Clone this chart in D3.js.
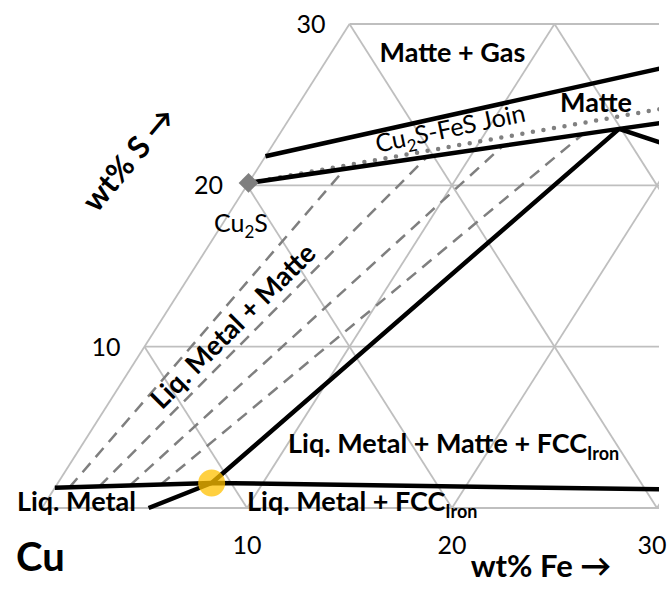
<!DOCTYPE html>
<html>
<head>
<meta charset="utf-8">
<script src="https://cdn.jsdelivr.net/npm/d3@7"></script>
<style>
  body { margin: 0; background: #fff; }
  svg { display: block; font-family: Lato, "Open Sans", sans-serif; }
</style>
</head>
<body>
<div id="chart"></div>
<script>
// ternary corner (Cu rich), values are [wt% Fe, wt% S]
const feTicks = [10, 20, 30];
const sTicks = [10, 20, 30];
const gridVals = [0, 10, 20, 30];

const matteUpper = [[0, 21.8], [17, 27.4]];
const matteLower = [[0, 20.15], [16.4, 23.5], [18.2, 23.85]];
const matteRight = [[16.4, 23.5], [19.4, 22.45]];
const threePhase = [[16.4, 23.5], [7.5, 1.55], [5.2, 0]];
const liquidLine = [[0, 1.25], [7.5, 1.55], [30, 1.15]];
const joinLine = [[0, 20.15], [20, 25.3]];
const tieLines = [
  [[0.7, 1.28], [4.27, 21.02]],
  [[2.13, 1.34], [7.9, 21.76]],
  [[3.59, 1.4], [11.26, 22.45]],
  [[5.06, 1.45], [14.8, 23.17]]
];
const cu2s = [0, 20.15];
const eutectic = [7.5, 1.55];

const width = 668, height = 590;

let svg = d3.select("#chart")
  .append("svg")
  .attr("width", width)
  .attr("height", height);

// Fe runs along the bottom, S up the left edge
let x = d3.scaleLinear().domain([0, 30]).range([42, 657]);
let y = d3.scaleLinear().domain([0, 30]).range([508, 24]);
const px = d => x(d[0] + d[1] / 2);
const py = d => y(d[1]);
const line = d3.line().x(px).y(py);

svg.append("clipPath").attr("id", "clip")
  .append("rect").attr("x", 0).attr("y", 0).attr("width", 659).attr("height", height);

let plot = svg.append("g").attr("clip-path", "url(#clip)");

// grid: constant S, constant Fe, constant Cu
let grid = [];
gridVals.forEach(v => {
  grid.push([[0, v], [40, v]]);
  grid.push([[v, 0], [v, 30]]);
});
[10, 20, 30, 40].forEach(t => grid.push([[Math.max(0, t - 30), Math.min(t, 30)], [t, 0]]));

plot.selectAll(".grid")
  .data(grid)
  .join("path")
  .attr("class", "grid")
  .attr("d", line)
  .attr("fill", "none")
  .attr("stroke", "#bfbfbf")
  .attr("stroke-width", 1.8);

plot.selectAll(".tie")
  .data(tieLines)
  .join("path")
  .attr("class", "tie")
  .attr("d", line)
  .attr("fill", "none")
  .attr("stroke", "#7f7f7f")
  .attr("stroke-width", 2.5)
  .attr("stroke-dasharray", "12,8");

plot.append("path")
  .attr("d", line(joinLine))
  .attr("fill", "none")
  .attr("stroke", "#808080")
  .attr("stroke-width", 4.5)
  .attr("stroke-linecap", "round")
  .attr("stroke-dasharray", "0,10.7");

plot.selectAll(".bound")
  .data([matteUpper, matteLower, matteRight, threePhase, liquidLine])
  .join("path")
  .attr("class", "bound")
  .attr("d", line)
  .attr("fill", "none")
  .attr("stroke", "#000")
  .attr("stroke-width", 4.5)
  .attr("stroke-linejoin", "round");

svg.append("rect") // Cu2S marker
  .attr("x", -7).attr("y", -7).attr("width", 14).attr("height", 14)
  .attr("fill", "#7f7f7f")
  .attr("transform", `translate(${px(cu2s)},${py(cu2s)}) rotate(45)`);

svg.append("circle")
  .attr("cx", px(eutectic)).attr("cy", py(eutectic)).attr("r", 13.5)
  .attr("fill", "#ffc000")
  .attr("fill-opacity", 0.75);

// tick labels
svg.selectAll(".fetick")
  .data(feTicks)
  .join("text")
  .attr("x", d => Math.min(px([d, 0]), 652))
  .attr("y", 554)
  .attr("text-anchor", "middle")
  .style("font-size", "25px")
  .text(d => d);

svg.selectAll(".stick")
  .data(sTicks)
  .join("text")
  .attr("x", d => px([0, d]) - 24)
  .attr("y", d => py([0, d]) + 9)
  .attr("text-anchor", "end")
  .style("font-size", "25px")
  .text(d => d);

// axis titles
svg.append("text")
  .attr("x", 541).attr("y", 577)
  .attr("text-anchor", "middle")
  .style("font-size", "31px").style("font-weight", "bold")
  .text("wt% Fe →");

svg.append("text")
  .attr("transform", "translate(137,166) rotate(-50)")
  .attr("text-anchor", "middle")
  .style("font-size", "31px").style("font-weight", "bold")
  .text("wt% S →");

svg.append("text")
  .attr("x", 16).attr("y", 571)
  .style("font-size", "40px").style("font-weight", "bold")
  .text("Cu");

// region labels
const bold = (t, d, anchor) => svg.append("text")
  .attr("x", px(d)).attr("y", py(d))
  .attr("text-anchor", anchor)
  .style("font-size", "27px").style("font-weight", "bold")
  .text(t);

bold("Matte + Gas", [6.2, 27.65], "middle");
bold("Matte", [14.75, 24.55], "middle");
bold("Liq. Metal", [-1.13, -0.19], "start");

let l1 = bold("Liq. Metal + Matte + FCC", [10.3, 3.41], "start");
l1.append("tspan").attr("dy", 7).style("font-size", "18px").text("Iron");
let l2 = bold("Liq. Metal + FCC", [10.1, -0.19], "start");
l2.append("tspan").attr("dy", 7).style("font-size", "18px").text("Iron");

svg.append("text")
  .attr("transform", `translate(${px([3.68, 11.28])},${py([3.68, 11.28])}) rotate(-45)`)
  .attr("text-anchor", "middle")
  .attr("dy", "0.35em")
  .style("font-size", "27px").style("font-weight", "bold")
  .text("Liq. Metal + Matte");

let join = svg.append("text")
  .attr("transform", `translate(${px([8.5, 23])},${py([8.5, 23])}) rotate(-12)`)
  .attr("text-anchor", "middle")
  .style("font-size", "25px");
join.append("tspan").text("Cu");
join.append("tspan").attr("dy", 6).style("font-size", "17px").text("2");
join.append("tspan").attr("dy", -6).text("S-FeS Join");

let cuLab = svg.append("text")
  .attr("x", px([1.15, 17.11])).attr("y", py([1.15, 17.11]))
  .attr("text-anchor", "middle")
  .style("font-size", "25px");
cuLab.append("tspan").text("Cu");
cuLab.append("tspan").attr("dy", 6).style("font-size", "17px").text("2");
cuLab.append("tspan").attr("dy", -6).text("S");
</script>
</body>
</html>
